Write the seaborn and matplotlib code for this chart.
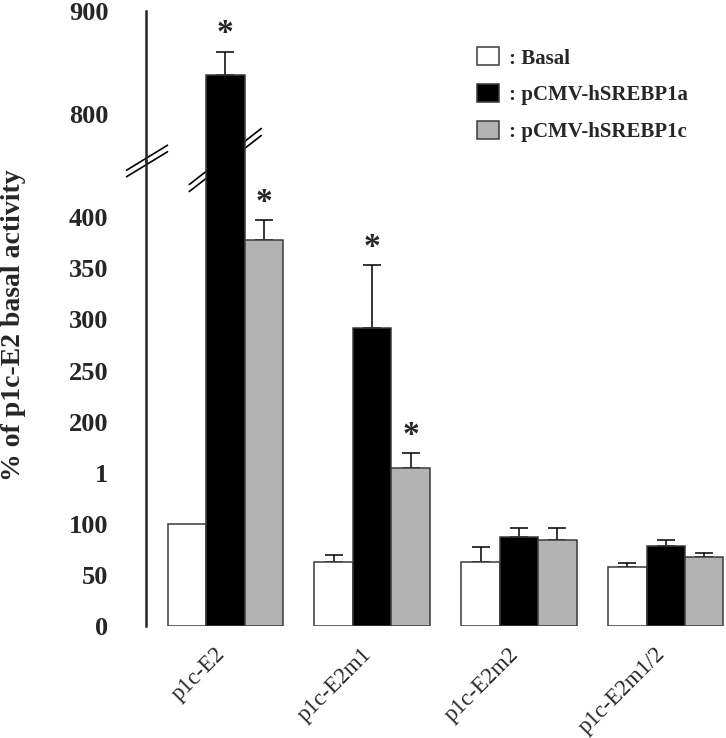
import matplotlib
matplotlib.use('Agg')
import matplotlib.pyplot as plt
from matplotlib.patches import Patch
from matplotlib.lines import Line2D
import seaborn as sns
import pandas as pd

constructs = ['p1c-E2', 'p1c-E2m1', 'p1c-E2m2', 'p1c-E2m1/2']
conditions = ['Basal', 'pCMV-hSREBP1a', 'pCMV-hSREBP1c']
basal = [100, 63, 63, 58]
basal_err = [0, 6, 14, 4]
srebp1a = [838, 292, 87, 78]
srebp1a_err = [22, 61, 9, 6]
srebp1c = [378, 155, 84, 68]
srebp1c_err = [19, 14, 12, 3]
basal_star = [False, False, False, False]
srebp1a_star = [True, True, False, False]
srebp1c_star = [True, True, False, False]

low_ticks = [0, 50, 100, 150, 200, 250, 300, 350, 400]
low_ticklabels = ['0', '50', '100', '1', '200', '250', '300', '350', '400']
high_ticks = [800, 900]
colors = ['white', 'black', '#b3b3b3']

df = pd.DataFrame({
    'construct': constructs * 3,
    'condition': [c for c in conditions for _ in constructs],
    'value': basal + srebp1a + srebp1c,
})
errs = [basal_err, srebp1a_err, srebp1c_err]
stars = [basal_star, srebp1a_star, srebp1c_star]

sns.set_style('white')
plt.rcParams['font.family'] = ['Liberation Serif', 'DejaVu Serif']

W, H = 726, 738
fig = plt.figure(figsize=(W / 100, H / 100), dpi=100)


def box(l, t, r, b):
    return [l / W, 1 - b / H, (r - l) / W, (b - t) / H]


ax_top = fig.add_axes(box(146, 11, 726, 161))
ax_bot = fig.add_axes(box(146, 161, 726, 626))
ax_top.set_ylim(754, 900)
ax_bot.set_ylim(0, 455)

edge = '#3a3a3a'
for ax in (ax_top, ax_bot):
    ax.set_facecolor('none')
    sns.barplot(data=df, x='construct', y='value', hue='condition',
                order=constructs, hue_order=conditions, palette=colors,
                width=0.785, edgecolor=edge, linewidth=1.1, errorbar=None,
                legend=False, ax=ax, zorder=2)
    lo, hi = ax.get_ylim()
    for cont, ee, ss in zip(ax.containers, errs, stars):
        for bar, e, s in zip(cont, ee, ss):
            cx = bar.get_x() + bar.get_width() / 2
            h = bar.get_height()
            if e > 0:
                ax.errorbar(cx, h, yerr=[[0], [e]], fmt='none', ecolor='black',
                            elinewidth=1.1, capsize=6.5, capthick=1.1, zorder=1)
            if s and lo <= h + e <= hi:
                ax.annotate('*', (cx, h + e), xytext=(0, 7), textcoords='offset points',
                            ha='center', va='baseline', fontsize=24, fontweight='bold',
                            annotation_clip=False)
    ax.set_xlim(-0.54, 3.41)
    ax.set_xlabel('')
    ax.set_ylabel('')
    sns.despine(ax=ax, bottom=True)
    ax.spines['left'].set_linewidth(1.8)
    ax.tick_params(axis='y', direction='out', length=8, width=1.8, pad=19,
                   labelsize=19)

ax_top.set_yticks(high_ticks)
ax_top.set_yticklabels([str(t) for t in high_ticks], fontweight='bold')
ax_top.tick_params(axis='x', bottom=False, labelbottom=False)

ax_bot.set_yticks(low_ticks)
ax_bot.set_yticklabels(low_ticklabels, fontweight='bold')
ax_bot.set_xticks(range(len(constructs)))
ax_bot.set_xticklabels(constructs, rotation=45, ha='right', va='baseline',
                       rotation_mode='anchor')
ax_bot.tick_params(axis='x', length=0, pad=21, labelsize=16.5)

fig.text(14 / W, 1 - 325 / H, '% of p1c-E2 basal activity', rotation=90,
         ha='center', va='center', fontsize=20, fontweight='bold')

handles = [Patch(facecolor=c, edgecolor=edge, linewidth=1.1) for c in colors]
fig.legend(handles, [': ' + c for c in conditions], loc='upper left',
           bbox_to_anchor=(467 / W, 1 - 37 / H), frameon=False, borderpad=0,
           handlelength=1.05, handleheight=0.95, handletextpad=0.45,
           labelspacing=0.75, prop={'weight': 'bold', 'size': 15})

# break marks, drawn behind the axes
inv = fig.transFigure.inverted()


def break_mark(x0, y0, dx, dy, sep):
    for off in (-sep / 2, sep / 2):
        pts = inv.transform([(x0 - dx, y0 - dy + off), (x0 + dx, y0 + dy + off)])
        fig.add_artist(Line2D(pts[:, 0], pts[:, 1], color='black', lw=1.2, zorder=-1))


y_split = ax_bot.get_position().y1 * H
x_spine = ax_bot.get_position().x0 * W
break_mark(x_spine + 1, y_split, 20.5, 12.5, 6.5)
big = ax_bot.containers[1][0]
x_bar = ax_bot.transData.transform((big.get_x() + big.get_width() / 2, 0))[0]
break_mark(x_bar, y_split + 1, 36, 28, 7)

fig.savefig('out.png', dpi=100)
